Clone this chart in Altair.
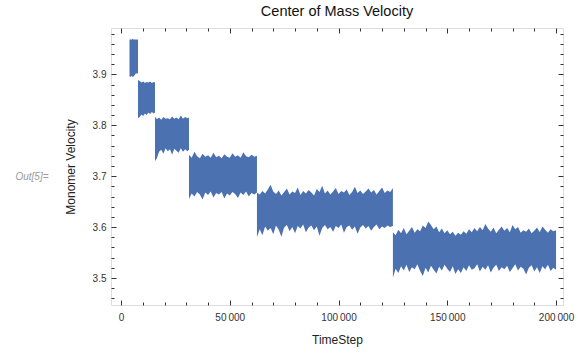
import altair as alt
import pandas as pd

# ---- data: envelope (min / max) of the fast-oscillating velocity band ----
seg1_t = [3906, 4400, 4900, 5400, 5900, 6400, 6900, 7400, 7812]
seg1_hi = [3.968, 3.969, 3.968, 3.970, 3.968, 3.969, 3.968, 3.969, 3.968]
seg1_lo = [3.896, 3.895, 3.897, 3.895, 3.896, 3.899, 3.902, 3.901, 3.903]

seg2_t = [7813, 8600, 9400, 10200, 11000, 11800, 12600, 13400, 14200, 15000, 15625]
seg2_hi = [3.889, 3.887, 3.884, 3.886, 3.883, 3.885, 3.884, 3.886, 3.883, 3.885, 3.884]
seg2_lo = [3.814, 3.816, 3.821, 3.818, 3.823, 3.820, 3.825, 3.822, 3.826, 3.823, 3.825]

seg3_t = [15626, 16500, 17500, 18500, 19500, 20500, 21500, 22500, 23500,
          24500, 25500, 26500, 27500, 28500, 29500, 30500, 31250]
seg3_hi = [3.817, 3.812, 3.815, 3.811, 3.816, 3.813, 3.814, 3.812, 3.817,
           3.813, 3.815, 3.812, 3.819, 3.813, 3.816, 3.814, 3.815]
seg3_lo = [3.730, 3.735, 3.748, 3.752, 3.744, 3.755, 3.749, 3.753, 3.742,
           3.754, 3.750, 3.746, 3.755, 3.748, 3.753, 3.749, 3.752]

seg4_t = [31251, 32500, 33750, 35000, 36250, 37500, 38750, 40000, 41250,
          42500, 43750, 45000, 46250, 47500, 48750, 50000, 51250, 52500,
          53750, 55000, 56250, 57500, 58750, 60000, 61250, 62500]
seg4_hi = [3.742, 3.736, 3.748, 3.739, 3.735, 3.744, 3.738, 3.741, 3.736,
           3.746, 3.737, 3.740, 3.735, 3.743, 3.738, 3.736, 3.745, 3.738,
           3.741, 3.736, 3.747, 3.739, 3.737, 3.742, 3.738, 3.740]
seg4_lo = [3.655, 3.666, 3.660, 3.669, 3.664, 3.654, 3.668, 3.663, 3.670,
           3.658, 3.667, 3.664, 3.669, 3.656, 3.666, 3.662, 3.669, 3.665,
           3.657, 3.668, 3.663, 3.670, 3.660, 3.667, 3.664, 3.668]

seg5_t = [62501, 63750, 65000, 66250, 67500, 68750, 70000, 71250, 72500,
          73750, 75000, 76250, 77500, 78750, 80000, 81250, 82500, 83750,
          85000, 86250, 87500, 88750, 90000, 91250, 92500, 93750, 95000,
          96250, 97500, 98750, 100000, 101250, 102500, 103750, 105000,
          106250, 107500, 108750, 110000, 111250, 112500, 113750, 115000,
          116250, 117500, 118750, 120000, 121250, 122500, 123750, 125000]
seg5_hi = [3.668, 3.664, 3.671, 3.666, 3.674, 3.683, 3.670, 3.665, 3.672, 3.662,
           3.669, 3.676, 3.664, 3.670, 3.667, 3.678, 3.663, 3.671, 3.666, 3.673,
           3.668, 3.662, 3.675, 3.669, 3.681, 3.666, 3.672, 3.664, 3.670, 3.677,
           3.665, 3.671, 3.668, 3.674, 3.663, 3.669, 3.679, 3.667, 3.672, 3.665,
           3.670, 3.676, 3.668, 3.673, 3.664, 3.671, 3.678, 3.667, 3.672, 3.669,
           3.677]
seg5_lo = [3.580, 3.596, 3.584, 3.601, 3.593, 3.598, 3.586, 3.603, 3.595, 3.581,
           3.599, 3.604, 3.592, 3.600, 3.588, 3.602, 3.597, 3.605, 3.590, 3.599,
           3.603, 3.594, 3.601, 3.583, 3.598, 3.604, 3.596, 3.600, 3.591, 3.602,
           3.598, 3.605, 3.589, 3.600, 3.603, 3.595, 3.601, 3.587, 3.599, 3.604,
           3.597, 3.602, 3.593, 3.600, 3.605, 3.596, 3.601, 3.598, 3.603, 3.600,
           3.602]

seg6_t = [125001, 126250, 127500, 128750, 130000, 131250, 132500, 133750,
          135000, 136250, 137500, 138750, 140000, 141250, 142500, 143750,
          145000, 146250, 147500, 148750, 150000, 151250, 152500, 153750,
          155000, 156250, 157500, 158750, 160000, 161250, 162500, 163750,
          165000, 166250, 167500, 168750, 170000, 171250, 172500, 173750,
          175000, 176250, 177500, 178750, 180000, 181250, 182500, 183750,
          185000, 186250, 187500, 188750, 190000, 191250, 192500, 193750,
          195000, 196250, 197500, 198750, 200000]
seg6_hi = [3.590, 3.584, 3.595, 3.588, 3.598, 3.586, 3.593, 3.600, 3.589, 3.596,
           3.592, 3.603, 3.598, 3.611, 3.604, 3.596, 3.601, 3.590, 3.597, 3.588,
           3.594, 3.586, 3.591, 3.583, 3.589, 3.585, 3.592, 3.587, 3.596, 3.590,
           3.598, 3.592, 3.600, 3.594, 3.606, 3.597, 3.591, 3.599, 3.588, 3.595,
           3.601, 3.593, 3.598, 3.590, 3.604, 3.596, 3.600, 3.589, 3.594, 3.591,
           3.597, 3.588, 3.593, 3.599, 3.590, 3.601, 3.595, 3.589, 3.596, 3.592,
           3.594]
seg6_lo = [3.501, 3.518, 3.510, 3.523, 3.515, 3.526, 3.512, 3.521, 3.517, 3.527,
           3.514, 3.504, 3.520, 3.511, 3.524, 3.516, 3.509, 3.522, 3.515, 3.526,
           3.518, 3.512, 3.523, 3.508, 3.517, 3.510, 3.521, 3.514, 3.525, 3.516,
           3.519, 3.527, 3.513, 3.522, 3.516, 3.525, 3.511, 3.520, 3.526, 3.514,
           3.521, 3.517, 3.524, 3.512, 3.519, 3.527, 3.515, 3.522, 3.518, 3.507,
           3.520, 3.525, 3.513, 3.521, 3.510, 3.523, 3.517, 3.526, 3.514, 3.520,
           3.516]

x_major = [0, 50000, 100000, 150000, 200000]
x_minor = [10000, 20000, 30000, 40000, 60000, 70000, 80000, 90000,
           110000, 120000, 130000, 140000, 160000, 170000, 180000, 190000]
y_major = [3.5, 3.6, 3.7, 3.8, 3.9]
y_minor = [3.46, 3.48, 3.52, 3.54, 3.56, 3.58, 3.62, 3.64, 3.66, 3.68,
           3.72, 3.74, 3.76, 3.78, 3.82, 3.84, 3.86, 3.88, 3.92, 3.94,
           3.96, 3.98]

rows = []
for ts, hs, ls in [(seg1_t, seg1_hi, seg1_lo), (seg2_t, seg2_hi, seg2_lo),
                   (seg3_t, seg3_hi, seg3_lo), (seg4_t, seg4_hi, seg4_lo),
                   (seg5_t, seg5_hi, seg5_lo), (seg6_t, seg6_hi, seg6_lo)]:
    for t, h, l in zip(ts, hs, ls):
        rows.append({"t": float(t), "hi": float(h), "lo": float(l)})
df = pd.DataFrame(rows)

W, H = 452, 277
FONT = "Liberation Sans"
xs = alt.Scale(domain=[-4600, 203200], nice=False, zero=False)
ys = alt.Scale(domain=[3.447, 3.991], nice=False, zero=False)


def tick_axis(orient, offset, values, size):
    return alt.Axis(orient=orient, offset=offset, values=values, tickSize=size,
                    labels=False, domain=False, grid=False, title=None,
                    tickColor="#333333", tickWidth=1)


def tick_layer(xaxis, yaxis):
    return alt.Chart(df).mark_point(opacity=0).encode(
        x=alt.X("t:Q", scale=xs, axis=xaxis),
        y=alt.Y("lo:Q", scale=ys, axis=yaxis),
    )


label_x = alt.Axis(orient="bottom", values=x_major, ticks=False, domain=False,
                   grid=False, labelFont=FONT, labelFontSize=10,
                   labelColor="#333333", labelPadding=7,
                   labelExpr="replace(format(datum.value, ','), ',', '\u2009')",
                   title="TimeStep", titleFont=FONT, titleFontSize=12,
                   titleFontWeight="normal", titleColor="#222222",
                   titlePadding=12)
label_y = alt.Axis(orient="left", values=y_major, ticks=False, domain=False,
                   grid=False, labelFont=FONT, labelFontSize=10,
                   labelColor="#333333", labelPadding=5, format=".1f",
                   title="Monomer Velocity", titleFont=FONT, titleFontSize=12,
                   titleFontWeight="normal", titleColor="#222222",
                   titlePadding=15)

main = alt.Chart(df).mark_area(color="#4b71b0").encode(
    x=alt.X("t:Q", scale=xs, axis=label_x),
    y=alt.Y("lo:Q", scale=ys, axis=label_y),
    y2=alt.Y2("hi:Q"),
)
l2 = tick_layer(tick_axis("top", -H, x_major, 5), tick_axis("right", -W, y_major, 5))
l3 = tick_layer(tick_axis("top", -H, x_minor, 3), tick_axis("right", -W, y_minor, 3))
l4 = tick_layer(tick_axis("bottom", -H, x_major, 5), tick_axis("left", -W, y_major, 5))
l5 = tick_layer(tick_axis("bottom", -H, x_minor, 3), tick_axis("left", -W, y_minor, 3))

out_label = alt.Chart(pd.DataFrame({"s": ["Out[5]="]})).mark_text(
    font=FONT, fontSize=10, fontStyle="italic", color="#9a9a9a", align="center",
    baseline="middle"
).encode(text="s:N", x=alt.value(-79), y=alt.value(149))

chart = alt.layer(main, l2, l3, l4, l5, out_label).resolve_axis(
    x="independent", y="independent"
).properties(
    width=W, height=H,
    title=alt.TitleParams("Center of Mass Velocity", font=FONT, fontSize=14.5,
                          fontWeight="normal", color="#111111", anchor="middle",
                          offset=8),
    autosize=alt.AutoSizeParams(type="none"),
    padding={"left": 111, "top": 28, "right": 15, "bottom": 51},
).configure_view(stroke="#333333", strokeWidth=1).configure(background="white")

chart.save("out.html", embed_options={"renderer": "svg", "actions": False})
